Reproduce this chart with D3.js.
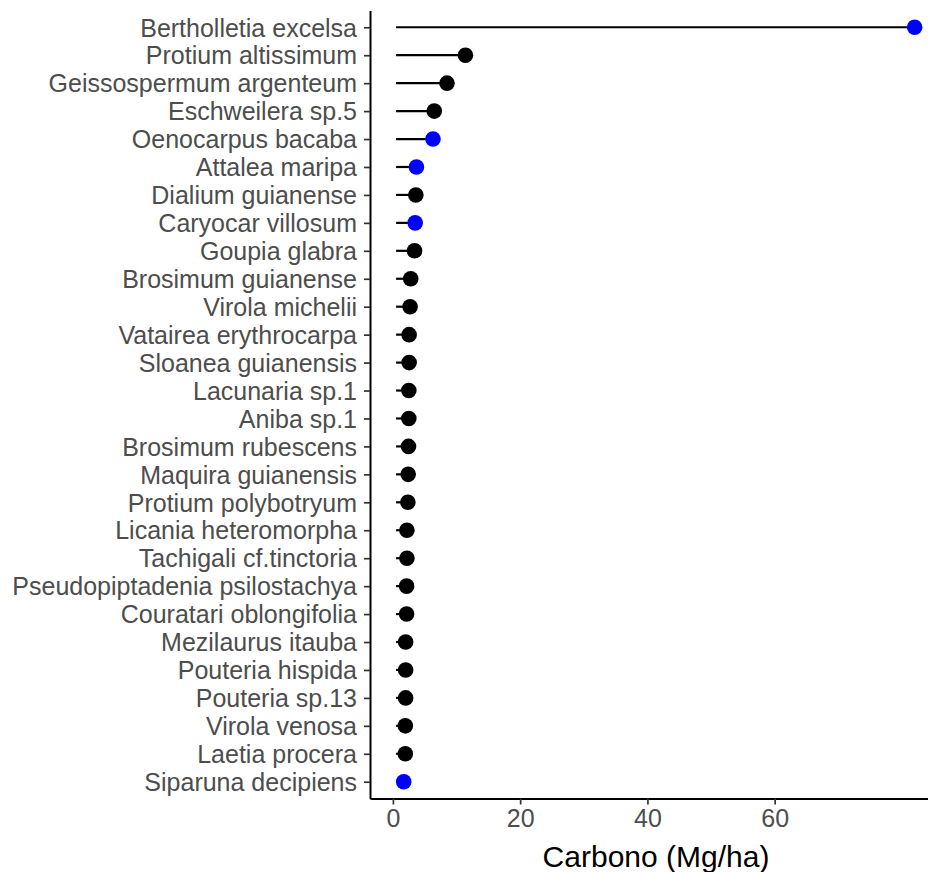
<!DOCTYPE html>
<html>
<head>
<meta charset="utf-8">
<script src="https://cdn.jsdelivr.net/npm/d3@7"></script>
<style>
  body { margin: 0; background: #fff; }
  svg { display: block; font-family: "Liberation Sans", Arial, sans-serif; }
</style>
</head>
<body>
<svg id="chart" width="928" height="872"></svg>
<script>
// species ordered top to bottom
var species = [
  "Bertholletia excelsa", "Protium altissimum", "Geissospermum argenteum",
  "Eschweilera sp.5", "Oenocarpus bacaba", "Attalea maripa", "Dialium guianense",
  "Caryocar villosum", "Goupia glabra", "Brosimum guianense", "Virola michelii",
  "Vatairea erythrocarpa", "Sloanea guianensis", "Lacunaria sp.1", "Aniba sp.1",
  "Brosimum rubescens", "Maquira guianensis", "Protium polybotryum",
  "Licania heteromorpha", "Tachigali cf.tinctoria", "Pseudopiptadenia psilostachya",
  "Couratari oblongifolia", "Mezilaurus itauba", "Pouteria hispida",
  "Pouteria sp.13", "Virola venosa", "Laetia procera", "Siparuna decipiens"
];
var carbono = [
  82.0, 11.4, 8.5, 6.5, 6.3, 3.7, 3.6, 3.5, 3.4, 2.8, 2.7, 2.55, 2.55, 2.5,
  2.5, 2.45, 2.4, 2.35, 2.2, 2.2, 2.15, 2.15, 2.0, 2.0, 2.0, 1.95, 1.95, 1.7
];
// true = highlighted species (blue)
var destaque = [
  true, false, false, false, true, true, false, true, false, false, false,
  false, false, false, false, false, false, false, false, false, false,
  false, false, false, false, false, false, true
];
var xTicks = [0, 20, 40, 60];
var segmentStart = 0.5;

var svg = d3.select("#chart");
var panelLeft = 370, panelRight = 942, panelTop = 10.5, panelBottom = 798.5;

var xScale = d3.scaleLinear().domain([-3.6, 86.3]).range([panelLeft, panelRight]);
var yScale = d3.scalePoint().domain(species).range([panelTop, panelBottom]).padding(0.6);

var rows = species.map(function (s, i) {
  return { name: s, value: carbono[i], blue: destaque[i] };
});

// lollipop stems
svg.append("g").selectAll("line")
  .data(rows)
  .enter()
  .append("line")
  .attr("x1", xScale(segmentStart))
  .attr("x2", function (d) { return xScale(d.value); })
  .attr("y1", function (d) { return yScale(d.name); })
  .attr("y2", function (d) { return yScale(d.name); })
  .attr("stroke", "black")
  .attr("stroke-width", 2.2);

// heads
svg.append("g").selectAll("circle")
  .data(rows)
  .enter()
  .append("circle")
  .attr("cx", function (d) { return xScale(d.value); })
  .attr("cy", function (d) { return yScale(d.name); })
  .attr("r", 7.8)
  .attr("fill", function (d) { return d.blue ? "#0000FF" : "black"; });

// axes
var yAxis = svg.append("g")
  .attr("transform", "translate(" + panelLeft + ",0)")
  .call(d3.axisLeft(yScale).tickSize(6).tickPadding(7).tickSizeOuter(0));
var xAxis = svg.append("g")
  .attr("transform", "translate(0," + panelBottom + ")")
  .call(d3.axisBottom(xScale).tickValues(xTicks).tickSize(6).tickPadding(4).tickSizeOuter(0));

[yAxis, xAxis].forEach(function (ax) {
  ax.select(".domain").attr("stroke", "black").attr("stroke-width", 2);
  ax.selectAll(".tick line").attr("stroke", "#333333").attr("stroke-width", 1.7);
  ax.selectAll(".tick text")
    .attr("fill", "#4D4D4D")
    .style("font-size", "25px")
    .style("font-family", "'Liberation Sans', Arial, sans-serif");
});
yAxis.selectAll(".tick text").attr("dy", "0.35em");
xAxis.selectAll(".tick text").attr("dy", "0.74em");

// x title
svg.append("text")
  .attr("x", (panelLeft + panelRight) / 2)
  .attr("y", 867)
  .attr("text-anchor", "middle")
  .style("font-size", "30px")
  .attr("fill", "black")
  .text("Carbono (Mg/ha)");
</script>
</body>
</html>
